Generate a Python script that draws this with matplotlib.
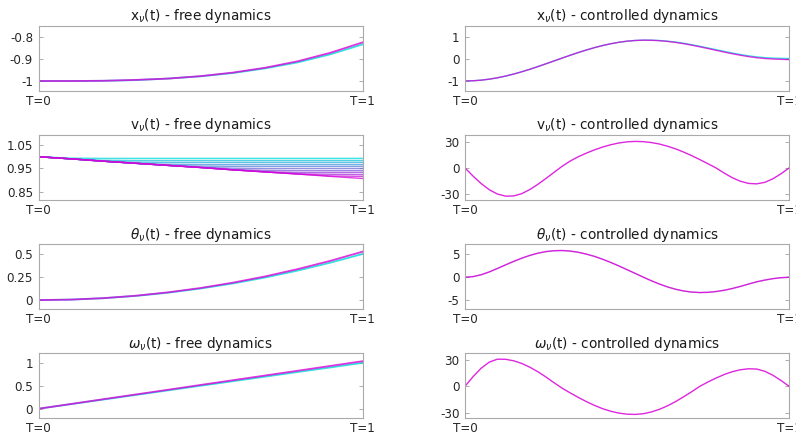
import matplotlib
matplotlib.use('Agg')
import matplotlib.pyplot as plt
import numpy as np

plt.rcParams['font.family'] = 'DejaVu Sans'
plt.rcParams['axes.unicode_minus'] = False
plt.rcParams['mathtext.fontset'] = 'dejavusans'

# time grids
t_free = [0.0, 0.1, 0.2, 0.3, 0.4, 0.5, 0.6, 0.7, 0.8, 0.9, 1.0]
t_ctrl = [0.000, 0.025, 0.050, 0.075, 0.100, 0.125, 0.150, 0.175, 0.200, 0.225,
          0.250, 0.275, 0.300, 0.325, 0.350, 0.375, 0.400, 0.425, 0.450, 0.475,
          0.500, 0.525, 0.550, 0.575, 0.600, 0.625, 0.650, 0.675, 0.700, 0.725,
          0.750, 0.775, 0.800, 0.825, 0.850, 0.875, 0.900, 0.925, 0.950, 0.975, 1.000]

# free dynamics (first = cyan trajectory, last = magenta trajectory)
x_free_first = [-1.000, -1.000, -0.999, -0.996, -0.989, -0.979, -0.964, -0.943, -0.916, -0.880, -0.835]
x_free_last = [-1.000, -1.000, -0.999, -0.995, -0.989, -0.978, -0.962, -0.940, -0.911, -0.873, -0.826]

# v free: one row per trajectory, cyan -> magenta
v_free = [
    [1.000, 0.994, 0.993, 0.993, 0.993, 0.993, 0.993, 0.993, 0.993, 0.993, 0.993],
    [1.000, 0.991, 0.985, 0.984, 0.984, 0.984, 0.984, 0.984, 0.984, 0.984, 0.984],
    [1.000, 0.991, 0.981, 0.977, 0.976, 0.976, 0.976, 0.976, 0.976, 0.976, 0.976],
    [1.000, 0.991, 0.981, 0.972, 0.968, 0.967, 0.967, 0.967, 0.967, 0.967, 0.967],
    [1.000, 0.991, 0.981, 0.972, 0.963, 0.960, 0.959, 0.959, 0.959, 0.959, 0.959],
    [1.000, 0.991, 0.981, 0.972, 0.963, 0.955, 0.951, 0.950, 0.950, 0.950, 0.950],
    [1.000, 0.991, 0.981, 0.972, 0.963, 0.954, 0.945, 0.942, 0.941, 0.941, 0.941],
    [1.000, 0.991, 0.981, 0.972, 0.963, 0.954, 0.944, 0.936, 0.933, 0.933, 0.933],
    [1.000, 0.991, 0.981, 0.972, 0.963, 0.954, 0.944, 0.935, 0.927, 0.925, 0.924],
    [1.000, 0.991, 0.981, 0.972, 0.963, 0.954, 0.944, 0.935, 0.926, 0.918, 0.916],
    [1.000, 0.991, 0.981, 0.972, 0.963, 0.954, 0.944, 0.935, 0.926, 0.916, 0.907],
]

th_free_first = [0.0, 0.005, 0.020, 0.045, 0.080, 0.125, 0.180, 0.245, 0.320, 0.405, 0.500]
th_free_last = [0.0, 0.005, 0.021, 0.047, 0.084, 0.131, 0.189, 0.257, 0.336, 0.425, 0.525]

om_free_first = [0.0, 0.101, 0.201, 0.302, 0.403, 0.504, 0.604, 0.705, 0.806, 0.906, 1.007]
om_free_last = [0.0, 0.104, 0.209, 0.313, 0.417, 0.522, 0.626, 0.730, 0.834, 0.939, 1.043]

# controlled dynamics
x_ctrl_last = [-1.000, -0.990, -0.963, -0.917, -0.855, -0.776, -0.684, -0.579, -0.465, -0.341,
               -0.211, -0.081, 0.051, 0.180, 0.305, 0.421, 0.530, 0.625, 0.707, 0.774,
               0.824, 0.856, 0.870, 0.866, 0.847, 0.813, 0.767, 0.709, 0.641, 0.566,
               0.487, 0.406, 0.326, 0.249, 0.180, 0.118, 0.068, 0.031, 0.008, -0.008, -0.020]
x_ctrl_first = [-1.000, -0.990, -0.963, -0.917, -0.855, -0.776, -0.684, -0.579, -0.465, -0.341,
                -0.211, -0.081, 0.051, 0.180, 0.305, 0.421, 0.530, 0.625, 0.707, 0.774,
                0.824, 0.856, 0.871, 0.870, 0.855, 0.825, 0.782, 0.728, 0.663, 0.590,
                0.513, 0.434, 0.356, 0.281, 0.213, 0.153, 0.105, 0.070, 0.048, 0.036, 0.030]
v_ctrl = [0.0, -9.3, -17.8, -24.8, -29.7, -32.1, -31.9, -29.3, -24.6, -18.6,
          -11.9, -4.9, 2.0, 8.0, 12.9, 17.0, 20.7, 23.9, 26.5, 28.5,
          29.8, 30.3, 30.0, 29.0, 27.3, 24.8, 21.8, 18.1, 14.0, 9.5,
          4.8, 0.0, -5.8, -11.1, -15.1, -17.6, -18.1, -16.4, -12.4, -6.7, 0.0]
th_ctrl = [0.0, 0.14, 0.55, 1.17, 1.92, 2.70, 3.46, 4.16, 4.77, 5.26,
           5.61, 5.80, 5.84, 5.72, 5.45, 5.05, 4.55, 3.93, 3.23, 2.47,
           1.66, 0.85, 0.03, -0.76, -1.48, -2.11, -2.62, -3.00, -3.24, -3.34,
           -3.29, -3.12, -2.84, -2.46, -2.00, -1.49, -1.00, -0.62, -0.31, -0.10, 0.0]
om_ctrl = [0.0, 11.0, 20.6, 27.5, 30.8, 30.7, 29.0, 26.0, 21.7, 16.5,
           10.5, 4.0, -2.2, -7.6, -12.7, -17.5, -21.8, -25.5, -28.4, -30.5,
           -31.7, -32.0, -31.2, -29.2, -26.2, -22.2, -17.4, -11.9, -6.1, 0.0,
           4.9, 9.4, 13.4, 16.6, 18.8, 19.9, 19.6, 17.1, 12.6, 6.7, 0.0]

n_traj = len(v_free)
colors = plt.cm.cool(np.linspace(0, 1, n_traj))
colors[:, :3] *= 0.85
cyan, magenta = colors[0], colors[-1]

W, H = 796, 437
fig = plt.figure(figsize=(W / 100, H / 100), dpi=100)

col_x = [38.5, 465.0]
row_top = [26.0, 135.0, 244.3, 353.3]
ax_w, ax_h = 324.0, 65.0

titles = [
    (r'x$_\nu$(t) - free dynamics', r'x$_\nu$(t) - controlled dynamics'),
    (r'v$_\nu$(t) - free dynamics', r'v$_\nu$(t) - controlled dynamics'),
    (r'$\theta_\nu$(t) - free dynamics', r'$\theta_\nu$(t) - controlled dynamics'),
    (r'$\omega_\nu$(t) - free dynamics', r'$\omega_\nu$(t) - controlled dynamics'),
]

ylims = [
    ((-1.045, -0.752), (-1.46, 1.52)),
    ((0.815, 1.093), (-36.5, 37.6)),
    ((-0.10, 0.605), (-7.0, 7.2)),
    ((-0.21, 1.217), (-36.4, 37.5)),
]
yticks = [
    ([-1, -0.9, -0.8], [-1, 0, 1]),
    ([0.85, 0.95, 1.05], [-30, 0, 30]),
    ([0, 0.25, 0.5], [-5, 0, 5]),
    ([0, 0.5, 1], [-30, 0, 30]),
]

axes = {}
for r in range(4):
    for c in range(2):
        ax = fig.add_axes([col_x[c] / W, 1 - (row_top[r] + ax_h) / H, ax_w / W, ax_h / H])
        ax.set_xlim(0, 1)
        ax.set_ylim(*ylims[r][c])
        ax.set_yticks(yticks[r][c])
        ax.set_yticklabels(['%g' % v for v in yticks[r][c]])
        ax.set_xticks([0, 1])
        ax.set_xticklabels(['T=0', 'T=1'])
        ax.tick_params(direction='in', length=3, width=0.6, colors='#a0a0a0',
                       labelcolor='#262626', labelsize=8.6, left=True, right=True,
                       top=False, pad=4)
        ax.tick_params(axis='x', pad=3)
        for s in ax.spines.values():
            s.set_color('#aaaaaa')
            s.set_linewidth(0.8)
        ax.set_title(titles[r][c], fontsize=9.8, color='#1a1a1a', pad=4)
        axes[(r, c)] = ax

lw_free = 1.3
lw_ctrl = 1.0
# free dynamics
ax = axes[(0, 0)]
ax.plot(t_free, x_free_first, color=cyan, lw=lw_free, alpha=0.8)
ax.plot(t_free, x_free_last, color=magenta, lw=lw_free, alpha=0.8)

ax = axes[(1, 0)]
for k in range(n_traj):
    ax.plot(t_free, v_free[k], color=colors[k], lw=1.0, alpha=0.75)

ax = axes[(2, 0)]
ax.plot(t_free, th_free_first, color=cyan, lw=lw_free, alpha=0.8)
ax.plot(t_free, th_free_last, color=magenta, lw=lw_free, alpha=0.8)

ax = axes[(3, 0)]
ax.plot(t_free, om_free_first, color=cyan, lw=lw_free, alpha=0.8)
ax.plot(t_free, om_free_last, color=magenta, lw=lw_free, alpha=0.8)

# controlled dynamics
ax = axes[(0, 1)]
ax.plot(t_ctrl, x_ctrl_first, color=cyan, lw=lw_ctrl, alpha=0.8)
ax.plot(t_ctrl, x_ctrl_last, color=magenta, lw=lw_ctrl, alpha=0.8)

ax = axes[(1, 1)]
ax.plot(t_ctrl, v_ctrl, color=magenta, lw=lw_ctrl, alpha=0.85)

ax = axes[(2, 1)]
ax.plot(t_ctrl, th_ctrl, color=colors[4], lw=lw_ctrl, alpha=0.3)
ax.plot(t_ctrl, th_ctrl, color=magenta, lw=lw_ctrl, alpha=0.85)

ax = axes[(3, 1)]
ax.plot(t_ctrl, om_ctrl, color=magenta, lw=lw_ctrl, alpha=0.85)

fig.savefig('out.png', dpi=100)
